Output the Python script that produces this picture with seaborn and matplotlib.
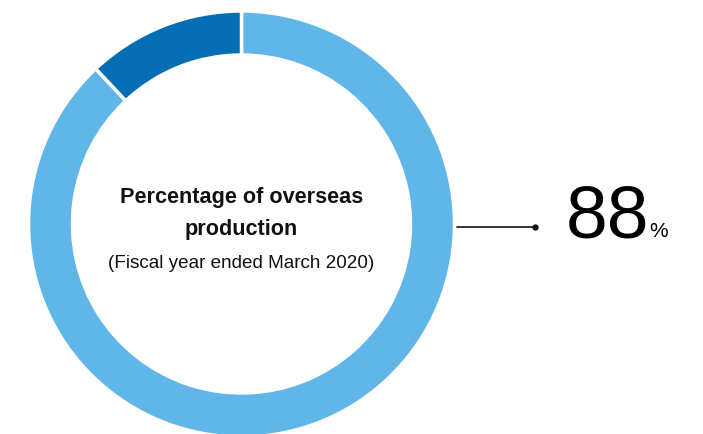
import matplotlib
matplotlib.use("Agg")
import matplotlib.pyplot as plt
import seaborn as sns

labels = ["Overseas", "Japan"]
shares = [88, 12]
colors = ["#60B6E8", "#056EB5"]
title_lines = ["Percentage of overseas", "production"]
subtitle = "(Fiscal year ended March 2020)"
value_text = "88"
unit_text = "%"

sns.set_theme(style="white")
plt.rcParams["font.family"] = ["Liberation Sans", "DejaVu Sans"]

W, H = 703, 434
fig = plt.figure(figsize=(W / 100, H / 100), dpi=100)
ax = fig.add_axes([0, 0, 1, 1])
cx, cy, R, ring = 241.5, H - 224, 213, 44
ax.pie(shares, colors=colors, startangle=90, counterclock=False,
       center=(cx, cy), radius=R,
       wedgeprops=dict(width=ring, edgecolor="white", linewidth=2.5))
ax.set_xlim(0, W)
ax.set_ylim(0, H)
ax.set_aspect("equal")
ax.axis("off")

ax.text(cx, H - 198, title_lines[0], ha="center", va="center",
        fontsize=15.6, fontweight="bold", color="#111111")
ax.text(cx, H - 229, title_lines[1], ha="center", va="center",
        fontsize=15.6, fontweight="bold", color="#111111")
ax.text(cx, H - 263, subtitle, ha="center", va="center",
        fontsize=13.6, color="#111111")

ax.plot([457, 535], [H - 227, H - 227], color="#111111", lw=1.2)
ax.plot([535], [H - 227], marker="o", ms=3.5, color="#111111")
ax.text(566, H - 237, value_text, ha="left", va="baseline",
        fontsize=54, color="black")
ax.text(649, H - 237, unit_text, ha="left", va="baseline",
        fontsize=15, color="black")

fig.savefig("out.png", dpi=100)
